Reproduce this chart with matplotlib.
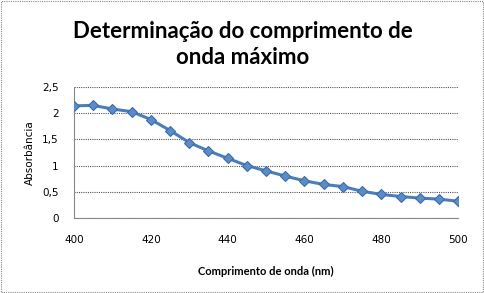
import matplotlib.pyplot as plt
from matplotlib.patches import Rectangle

wavelength = [400, 405, 410, 415, 420, 425, 430, 435, 440, 445, 450,
              455, 460, 465, 470, 475, 480, 485, 490, 495, 500]
absorbance = [2.14, 2.15, 2.08, 2.03, 1.88, 1.67, 1.44, 1.28, 1.14, 1.00, 0.90,
              0.80, 0.71, 0.64, 0.60, 0.51, 0.45, 0.41, 0.38, 0.36, 0.32]
yticks = [0, 0.5, 1, 1.5, 2, 2.5]
xticks = [400, 420, 440, 460, 480, 500]

fig = plt.figure(figsize=(4.85, 2.93), dpi=100)
ax = fig.add_axes([0.1526, 0.256, 0.792, 0.447])

ax.plot(wavelength, absorbance, color="#4A7EBB", lw=2.2, marker="D",
        markersize=5.5, markerfacecolor="#5B8CC8", markeredgecolor="#3C6DA8",
        markeredgewidth=0.8, zorder=3)

ax.set_xlim(400, 500)
ax.set_ylim(0, 2.5)
ax.set_xticks(xticks)
ax.set_yticks(yticks)
ax.set_yticklabels([("%g" % v).replace(".", ",") for v in yticks])
ax.tick_params(axis="x", labelsize=7.5, length=0, pad=12)
ax.tick_params(axis="y", labelsize=7.5, length=0, pad=11)
ax.grid(axis="y", color="#555555", lw=0.8, ls=(0, (1, 1)))
ax.set_axisbelow(True)
for side in ["top", "right"]:
    ax.spines[side].set_visible(False)
for side in ["left", "bottom"]:
    ax.spines[side].set_color("#888888")
    ax.spines[side].set_linewidth(0.8)

ax.set_xlabel("Comprimento de onda (nm)", fontsize=8, fontfamily="Lato",
              fontweight="bold", labelpad=15)
ax.set_ylabel("Absorbância", fontsize=7.5, labelpad=5)

fig.text(0.5, 0.870, "Determinação do comprimento de", ha="center",
         va="baseline", fontsize=16, fontfamily="Lato", fontweight="bold")
fig.text(0.5, 0.782, "onda máximo", ha="center", va="baseline",
         fontsize=16, fontfamily="Lato", fontweight="bold")

fig.patches.append(Rectangle((0.002, 0.003), 0.994, 0.992, transform=fig.transFigure,
                             fill=False, ec="#888888", lw=0.8, ls=(0, (1, 1))))

fig.savefig("out.png", dpi=100)
